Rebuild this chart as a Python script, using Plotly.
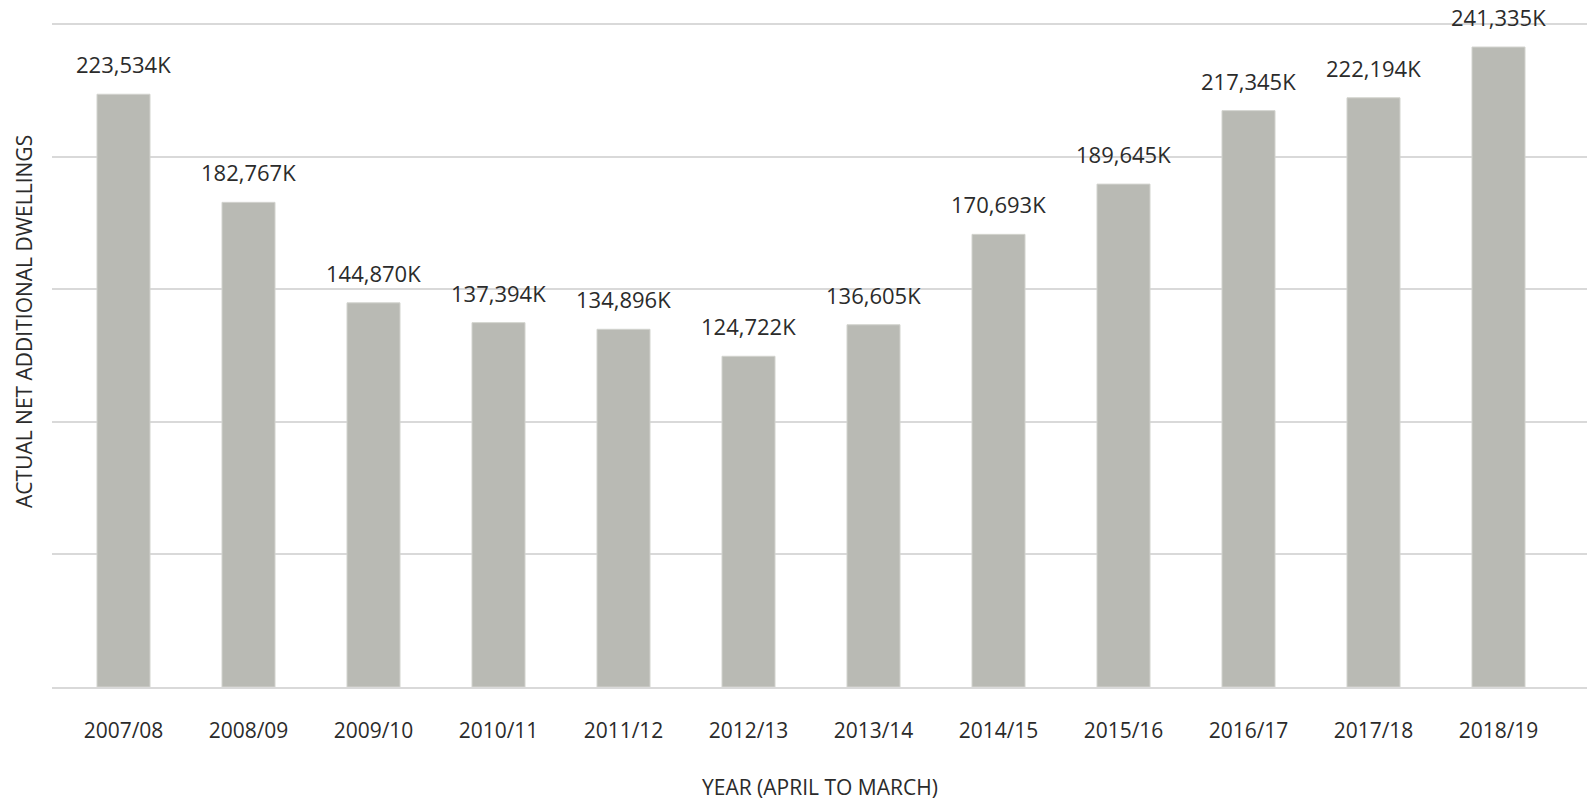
import plotly.graph_objects as go

# Net additional dwellings per financial year (April to March)
years = ["2007/08", "2008/09", "2009/10", "2010/11", "2011/12", "2012/13",
         "2013/14", "2014/15", "2015/16", "2016/17", "2017/18", "2018/19"]
dwellings = [223534, 182767, 144870, 137394, 134896, 124722,
             136605, 170693, 189645, 217345, 222194, 241335]
value_labels = ["223,534K", "182,767K", "144,870K", "137,394K", "134,896K", "124,722K",
                "136,605K", "170,693K", "189,645K", "217,345K", "222,194K", "241,335K"]
grid_values = [0, 50000, 100000, 150000, 200000, 250000]

FONT = "Open Sans"
TEXT_COLOR = "#2b2b2b"
BAR_COLOR = "#b9bab4"
GRID_COLOR = "#d9d9d9"

W, H = 1587, 802
M_L, M_R, M_T, M_B = 52, 0, 23, 115
plot_top, plot_bottom = M_T, H - M_B
plot_h = plot_bottom - plot_top

fig = go.Figure()
fig.add_trace(go.Bar(
    x=years,
    y=dwellings,
    width=0.424,
    marker=dict(color=BAR_COLOR, line=dict(color="#d2d3ce", width=1)),
    hoverinfo="x+y",
))

# Value labels above each bar
for yr, val, lab in zip(years, dwellings, value_labels):
    fig.add_annotation(
        x=yr, y=val, text=lab, showarrow=False,
        xanchor="center", yanchor="bottom", yshift=13,
        font=dict(family=FONT, size=22, color=TEXT_COLOR),
    )

# Axis titles, positioned in pixels relative to the plot area
fig.add_annotation(
    x=0.5, xref="paper",
    y=(plot_bottom - 787) / plot_h, yref="paper", yanchor="middle",
    text="YEAR (APRIL TO MARCH)", showarrow=False,
    font=dict(family=FONT, size=21, color=TEXT_COLOR),
)
fig.add_annotation(
    x=(24 - M_L) / (W - M_L - M_R), xref="paper", xanchor="center",
    y=(plot_bottom - 322) / plot_h, yref="paper", yanchor="middle",
    text="ACTUAL NET ADDITIONAL DWELLINGS", textangle=-90, showarrow=False,
    font=dict(family=FONT, size=21, color=TEXT_COLOR),
)

fig.update_layout(
    width=W, height=H,
    margin=dict(l=M_L, r=M_R, t=M_T, b=M_B),
    paper_bgcolor="white",
    plot_bgcolor="white",
    showlegend=False,
    xaxis=dict(
        range=[-0.572, 11.708],
        showgrid=False,
        showline=True, linecolor=GRID_COLOR, linewidth=2,
        ticks="", ticklabelstandoff=24,
        tickfont=dict(family=FONT, size=21, color=TEXT_COLOR),
        fixedrange=True,
    ),
    yaxis=dict(
        range=[0, 250400],
        tickvals=grid_values,
        showticklabels=False,
        showgrid=True, gridcolor=GRID_COLOR, gridwidth=1.5,
        zeroline=False,
        showline=False,
        fixedrange=True,
    ),
)

fig.write_html("out.html")
